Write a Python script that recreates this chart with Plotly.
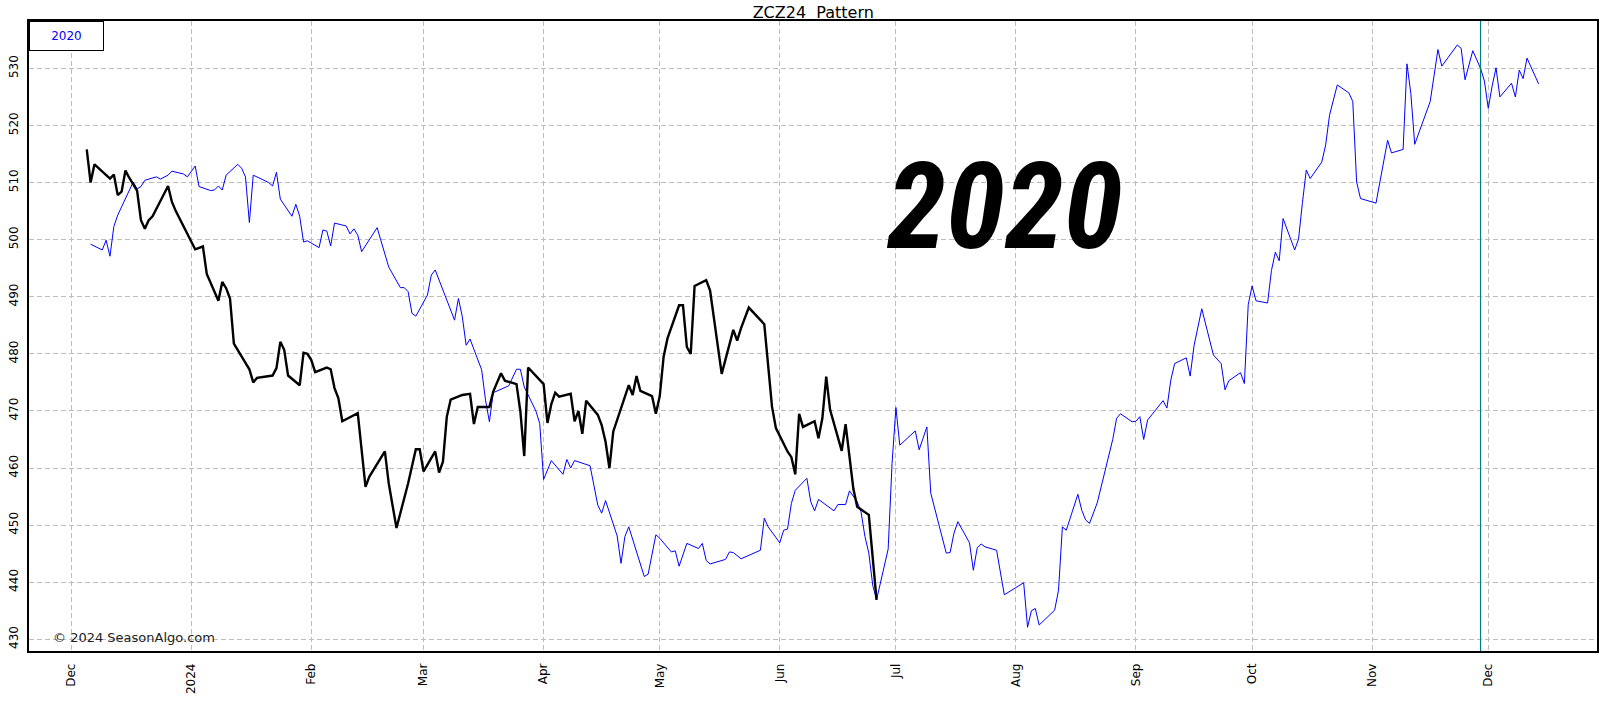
import plotly.graph_objects as go

# ── ZCZ24 (current contract) ─────────────────────────────────────────────────
zcz24_dates = [
    "2023-12-05", "2023-12-06", "2023-12-07", "2023-12-11", "2023-12-12",
    "2023-12-13", "2023-12-14", "2023-12-15", "2023-12-16", "2023-12-18",
    "2023-12-19", "2023-12-20", "2023-12-21", "2023-12-22", "2023-12-26",
    "2023-12-27", "2023-12-28", "2024-01-02", "2024-01-04", "2024-01-05",
    "2024-01-08", "2024-01-09", "2024-01-10", "2024-01-11", "2024-01-12",
    "2024-01-16", "2024-01-17", "2024-01-18", "2024-01-22", "2024-01-23",
    "2024-01-24", "2024-01-25", "2024-01-26", "2024-01-29", "2024-01-30",
    "2024-01-31", "2024-02-01", "2024-02-02", "2024-02-05", "2024-02-06",
    "2024-02-07", "2024-02-08", "2024-02-09", "2024-02-13", "2024-02-15",
    "2024-02-16", "2024-02-20", "2024-02-21", "2024-02-23", "2024-02-26",
    "2024-02-28", "2024-02-29", "2024-03-01", "2024-03-04", "2024-03-05",
    "2024-03-06", "2024-03-07", "2024-03-08", "2024-03-11", "2024-03-13",
    "2024-03-14", "2024-03-15", "2024-03-18", "2024-03-19", "2024-03-21",
    "2024-03-22", "2024-03-25", "2024-03-26", "2024-03-27", "2024-03-28",
    "2024-04-01", "2024-04-02", "2024-04-03", "2024-04-04", "2024-04-05",
    "2024-04-08", "2024-04-09", "2024-04-10", "2024-04-11", "2024-04-12",
    "2024-04-15", "2024-04-16", "2024-04-17", "2024-04-18", "2024-04-19",
    "2024-04-23", "2024-04-24", "2024-04-25", "2024-04-26", "2024-04-29",
    "2024-04-30", "2024-05-01", "2024-05-02", "2024-05-03", "2024-05-06",
    "2024-05-07", "2024-05-08", "2024-05-09", "2024-05-10", "2024-05-13",
    "2024-05-14", "2024-05-17", "2024-05-20", "2024-05-21", "2024-05-22",
    "2024-05-24", "2024-05-28", "2024-05-29", "2024-05-30", "2024-05-31",
    "2024-06-03", "2024-06-04", "2024-06-05", "2024-06-06", "2024-06-07",
    "2024-06-10", "2024-06-11", "2024-06-12", "2024-06-13", "2024-06-14",
    "2024-06-17", "2024-06-18", "2024-06-20", "2024-06-21", "2024-06-24",
    "2024-06-26",
]
zcz24_close = [
    515.8, 510.0, 513.2, 510.7, 511.4,
    507.8, 508.4, 512.1, 510.8, 508.6,
    503.4, 501.9, 503.4, 504.1, 509.4,
    506.6, 505.0, 498.3, 498.8, 494.0,
    489.3, 492.6, 491.5, 489.7, 481.8,
    477.3, 475.0, 475.8, 476.2, 477.5,
    482.1, 480.7, 476.2, 474.5, 480.2,
    480.0, 478.9, 476.8, 477.6, 477.3,
    474.0, 472.2, 468.2, 469.6, 456.7,
    458.5, 462.9, 457.3, 449.5, 457.3,
    463.3, 463.3, 459.4, 462.9, 459.2,
    461.1, 469.0, 472.0, 472.8, 473.0,
    467.7, 470.7, 470.7, 473.4, 476.6,
    475.3, 474.7, 469.9, 462.1, 477.6,
    474.7, 467.9, 471.2, 473.2, 472.5,
    473.0, 468.2, 470.0, 466.0, 471.8,
    469.3, 467.5, 464.6, 460.0, 466.4,
    474.5, 472.8, 476.1, 473.5, 472.6,
    469.5, 472.6, 479.5, 482.7, 488.5,
    488.5, 481.2, 480.0, 491.9, 492.9,
    491.1, 476.5, 484.2, 482.3, 484.5,
    488.1, 485.2, 478.3, 470.7, 467.0,
    462.9, 461.9, 458.9, 469.5, 467.2,
    468.2, 465.2, 468.7, 476.0, 470.2,
    463.0, 467.7, 456.4, 453.2, 451.8,
    436.9,
]

# ── 2020 seasonal pattern, shifted onto the 2024 calendar ───────────────────
pattern_dates = [
    "2023-12-06", "2023-12-09", "2023-12-10", "2023-12-11", "2023-12-12",
    "2023-12-13", "2023-12-17", "2023-12-18", "2023-12-19", "2023-12-20",
    "2023-12-23", "2023-12-24", "2023-12-26", "2023-12-27", "2023-12-30",
    "2023-12-31", "2024-01-02", "2024-01-03", "2024-01-06", "2024-01-07",
    "2024-01-08", "2024-01-09", "2024-01-10", "2024-01-13", "2024-01-14",
    "2024-01-15", "2024-01-16", "2024-01-17", "2024-01-21", "2024-01-22",
    "2024-01-23", "2024-01-24", "2024-01-27", "2024-01-28", "2024-01-29",
    "2024-01-30", "2024-01-31", "2024-02-03", "2024-02-04", "2024-02-05",
    "2024-02-06", "2024-02-07", "2024-02-10", "2024-02-11", "2024-02-12",
    "2024-02-13", "2024-02-14", "2024-02-18", "2024-02-21", "2024-02-24",
    "2024-02-25", "2024-02-26", "2024-02-27", "2024-02-28", "2024-03-02",
    "2024-03-03", "2024-03-04", "2024-03-06", "2024-03-09", "2024-03-10",
    "2024-03-11", "2024-03-12", "2024-03-13", "2024-03-16", "2024-03-17",
    "2024-03-18", "2024-03-19", "2024-03-23", "2024-03-25", "2024-03-26",
    "2024-03-27", "2024-03-30", "2024-03-31", "2024-04-01", "2024-04-02",
    "2024-04-03", "2024-04-06", "2024-04-07", "2024-04-08", "2024-04-09",
    "2024-04-13", "2024-04-15", "2024-04-16", "2024-04-17", "2024-04-20",
    "2024-04-21", "2024-04-22", "2024-04-23", "2024-04-27", "2024-04-28",
    "2024-04-30", "2024-05-01", "2024-05-04", "2024-05-05", "2024-05-06",
    "2024-05-08", "2024-05-11", "2024-05-12", "2024-05-13", "2024-05-14",
    "2024-05-18", "2024-05-19", "2024-05-20", "2024-05-22", "2024-05-27",
    "2024-05-28", "2024-05-29", "2024-06-01", "2024-06-02", "2024-06-03",
    "2024-06-04", "2024-06-05", "2024-06-08", "2024-06-09", "2024-06-10",
    "2024-06-11", "2024-06-15", "2024-06-16", "2024-06-18", "2024-06-19",
    "2024-06-21", "2024-06-22", "2024-06-23", "2024-06-24", "2024-06-25",
    "2024-06-26", "2024-06-29", "2024-06-30", "2024-07-01", "2024-07-02",
    "2024-07-06", "2024-07-07", "2024-07-08", "2024-07-09", "2024-07-10",
    "2024-07-14", "2024-07-15", "2024-07-16", "2024-07-17", "2024-07-20",
    "2024-07-21", "2024-07-22", "2024-07-23", "2024-07-24", "2024-07-27",
    "2024-07-29", "2024-08-03", "2024-08-04", "2024-08-05", "2024-08-06",
    "2024-08-07", "2024-08-11", "2024-08-12", "2024-08-13", "2024-08-14",
    "2024-08-17", "2024-08-18", "2024-08-19", "2024-08-20", "2024-08-22",
    "2024-08-26", "2024-08-27", "2024-08-28", "2024-08-31", "2024-09-01",
    "2024-09-02", "2024-09-03", "2024-09-04", "2024-09-08", "2024-09-09",
    "2024-09-10", "2024-09-11", "2024-09-14", "2024-09-15", "2024-09-16",
    "2024-09-18", "2024-09-21", "2024-09-23", "2024-09-24", "2024-09-25",
    "2024-09-28", "2024-09-29", "2024-09-30", "2024-10-01", "2024-10-02",
    "2024-10-05", "2024-10-06", "2024-10-07", "2024-10-08", "2024-10-09",
    "2024-10-12", "2024-10-13", "2024-10-14", "2024-10-15", "2024-10-16",
    "2024-10-19", "2024-10-20", "2024-10-21", "2024-10-23", "2024-10-26",
    "2024-10-27", "2024-10-28", "2024-10-29", "2024-11-02", "2024-11-05",
    "2024-11-06", "2024-11-09", "2024-11-10", "2024-11-11", "2024-11-12",
    "2024-11-16", "2024-11-17", "2024-11-18", "2024-11-19", "2024-11-23",
    "2024-11-24", "2024-11-25", "2024-11-27", "2024-11-29", "2024-11-30",
    "2024-12-01", "2024-12-02", "2024-12-03", "2024-12-04", "2024-12-07",
    "2024-12-08", "2024-12-09", "2024-12-10", "2024-12-11", "2024-12-14",
]
pattern_close = [
    499.2, 498.2, 499.9, 497.1, 502.3,
    504.3, 510.1, 508.9, 509.3, 510.4,
    511.0, 510.6, 511.3, 512.0, 511.5,
    511.0, 512.9, 509.3, 508.6, 508.7,
    509.4, 508.7, 511.3, 513.2, 512.5,
    511.0, 503.0, 511.3, 510.0, 509.4,
    511.8, 507.1, 504.1, 506.2, 504.1,
    499.6, 499.8, 498.6, 501.7, 501.5,
    498.9, 502.9, 502.4, 501.0, 501.9,
    500.8, 497.9, 502.1, 495.2, 491.6,
    491.6, 490.9, 487.1, 486.6, 490.3,
    493.8, 494.7, 491.1, 485.9, 489.7,
    486.5, 481.5, 482.6, 477.2, 471.9,
    468.1, 473.2, 474.4, 477.3, 477.3,
    474.2, 470.0, 467.8, 458.0, 459.8,
    461.3, 458.9, 461.5, 460.0, 461.3,
    460.4, 453.5, 452.1, 454.3, 448.1,
    443.3, 448.0, 449.7, 441.0, 441.4,
    448.3, 447.7, 445.3, 445.5, 442.8,
    446.8, 445.9, 446.8, 443.8, 443.2,
    444.0, 445.3, 445.2, 444.1, 445.6,
    451.2, 449.7, 446.9, 449.1, 449.3,
    453.8, 456.1, 458.2, 454.1, 452.5,
    454.5, 452.5, 453.6, 453.6, 456.0,
    454.1, 452.3, 448.0, 445.1, 439.5,
    436.9, 445.8, 460.8, 470.6, 464.0,
    466.5, 463.2, 465.2, 467.2, 455.6,
    445.1, 445.2, 448.6, 450.6, 446.9,
    442.1, 446.0, 446.7, 446.2, 445.6,
    437.8, 439.9, 432.1, 435.0, 435.4,
    432.5, 435.1, 438.6, 449.7, 449.1,
    455.4, 452.6, 450.9, 450.3, 453.9,
    465.0, 468.7, 469.5, 468.1, 468.2,
    469.0, 465.0, 468.4, 471.8, 470.5,
    475.4, 478.3, 479.3, 476.1, 481.4,
    487.9, 479.8, 478.3, 473.7, 475.3,
    476.7, 474.8, 488.6, 491.9, 489.3,
    488.9, 494.6, 497.8, 496.3, 503.7,
    498.2, 500.1, 506.5, 512.2, 510.7,
    513.6, 516.6, 521.8, 527.1, 525.7,
    524.2, 510.1, 507.2, 506.4, 517.4,
    515.2, 515.8, 530.8, 525.6, 516.7,
    524.2, 528.4, 533.3, 530.4, 534.1,
    533.5, 528.0, 533.1, 530.0, 527.8,
    523.0, 526.9, 530.1, 525.0, 527.4,
    525.0, 529.7, 528.2, 531.8, 527.3,
]

today = "2024-11-29"

month_ticks = [
    "2023-12-01", "2024-01-01", "2024-02-01", "2024-03-01", "2024-04-01",
    "2024-05-01", "2024-06-01", "2024-07-01", "2024-08-01", "2024-09-01",
    "2024-10-01", "2024-11-01", "2024-12-01",
]
month_labels = ["Dec", "2024", "Feb", "Mar", "Apr", "May", "Jun", "Jul",
                "Aug", "Sep", "Oct", "Nov", "Dec"]
y_ticks = [430, 440, 450, 460, 470, 480, 490, 500, 510, 520, 530]

FONT = "DejaVu Sans, Verdana, sans-serif"
BIG_FONT = ("Roboto Condensed, Liberation Sans Narrow, DejaVu Sans Condensed, "
            "Roboto, sans-serif")
GRID = dict(showgrid=True, gridcolor="#bdbdbd", griddash="5px,3px", gridwidth=1,
            showline=True, linecolor="black", linewidth=1.5, mirror=True,
            ticks="", zeroline=False, automargin=False,
            tickfont=dict(family=FONT, size=12, color="black"))

fig = go.Figure()
fig.add_trace(go.Scatter(
    x=pattern_dates, y=pattern_close, mode="lines", name="2020",
    line=dict(color="#0000ff", width=1),
))
fig.add_trace(go.Scatter(
    x=zcz24_dates, y=zcz24_close, mode="lines", name="ZCZ24",
    line=dict(color="black", width=2.4),
))

fig.add_vline(x=today, line=dict(color="#008080", width=1.2))

# big year stamp
fig.add_annotation(
    x=0.622, y=0.705, xref="paper", yref="paper", showarrow=False,
    xanchor="center", yanchor="middle",
    text="<b><i>2020</i></b>",
    font=dict(family=BIG_FONT, size=120, color="black"),
)
# legend-like box
fig.add_annotation(
    x=0, y=1, xref="paper", yref="paper", xanchor="left", yanchor="top",
    showarrow=False, text="2020", width=73, height=28, borderpad=0,
    bordercolor="black", borderwidth=1, bgcolor="white",
    font=dict(family=FONT, size=12, color="#0000ff"),
)
# watermark
fig.add_annotation(
    x=0.014, y=0.021, xref="paper", yref="paper", xanchor="left",
    yanchor="middle", showarrow=False, text="© 2024 SeasonAlgo.com",
    font=dict(family=FONT, size=13, color="#222222"),
)

fig.update_xaxes(
    range=["2023-11-20 02:00", "2024-12-29 02:00"],
    tickmode="array", tickvals=month_ticks, ticktext=month_labels,
    tickangle=-90, ticklabelstandoff=6, **GRID,
)
fig.update_yaxes(
    range=[427.95, 538.3], tickmode="array", tickvals=y_ticks,
    tickangle=-90, ticklabelstandoff=4, **GRID,
)

fig.update_layout(
    width=1604, height=709,
    title=dict(text="ZCZ24  Pattern", x=0.507, xanchor="center", y=0.983,
               yanchor="middle", font=dict(family=FONT, size=16, color="black")),
    showlegend=False,
    paper_bgcolor="white", plot_bgcolor="white",
    margin=dict(l=29, r=7, t=21, b=58),
)

# page has a default 8px body margin; drop it so the figure fills the window
fig.write_html("out.html", config={"displayModeBar": False},
               post_script="document.body.style.margin = '0';")
